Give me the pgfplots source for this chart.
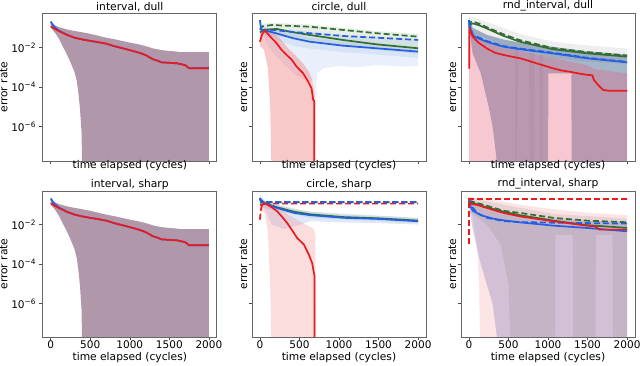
\documentclass[border=0pt]{standalone}
\usepackage{pgfplots}
\pgfplotsset{compat=1.18}
\usepackage{fontspec}
\setmainfont{DejaVu Sans}
\definecolor{cRed}{RGB}{235,25,30}
\definecolor{cBlue}{RGB}{35,95,230}
\definecolor{cGreen}{RGB}{50,110,50}
\definecolor{fRed}{RGB}{240,120,120}
\definecolor{fRedM}{RGB}{229,98,126}
\definecolor{fBlue}{RGB}{80,130,220}
\definecolor{fBlueD}{RGB}{40,80,130}
\definecolor{fLav}{RGB}{110,100,180}
\definecolor{fGreen}{RGB}{60,110,60}
\definecolor{fGray}{RGB}{110,115,110}
\definecolor{fMauve}{RGB}{176,152,170}
\pgfplotsset{
 mypanel/.style={scale only axis, width=174pt, xmin=-100, xmax=2100,
   xtick={0,500,1000,1500,2000}, ytick={1e-6,1e-4,1e-2},
   yticklabels={10\textsuperscript{−6},10\textsuperscript{−4},10\textsuperscript{−2}},
   minor y tick num=0, yminorticks=false, tick align=outside, tick pos=left,
   major tick length=3.3pt, tick style={black!70, line width=0.6pt},
   axis line style={black!60, line width=0.7pt},
   /pgf/number format/assume math mode=true,
   /pgf/number format/set thousands separator={},
   tick label style={font=\fontsize{10.5}{12}\selectfont},
   xticklabel style={yshift=3pt},
   label style={font=\fontsize{10.7}{12}\selectfont},
   title style={font=\fontsize{10.7}{12}\selectfont, yshift=-8pt},
   ylabel style={yshift=-9pt},
   xlabel={time elapsed (cycles)}, ylabel={error rate},
   anchor=south west, clip=true},
 mytop/.style={height=148pt, ymin=1.8e-8, ymax=0.57, xticklabels={}, xlabel style={yshift=11pt}},
 mybot/.style={height=146pt, ymin=2.1e-8, ymax=0.5, xlabel style={yshift=3pt}},
 mynolab/.style={yticklabels={}},
 myfirst/.style={ylabel style={yshift=6pt}},
 ln/.style={line width=1.7pt, line join=round},
 dsh/.style={line width=1.7pt, dash pattern=on 6pt off 3pt},
 band/.style={draw=none, fill=#1},
}
\begin{document}
\begin{tikzpicture}
\useasboundingbox (0,0) rectangle (640pt,366pt);
% ---------- panel 1
\begin{axis}[ymode=log, mypanel, mytop, myfirst, at={(42.8pt,205pt)}, title={interval, dull}]
\addplot[band=fMauve] coordinates {(0,0.17)(100,0.11)(200,0.085)(300,0.07)(400,0.06)(500,0.05)(600,0.04)(700,0.032)(800,0.027)(900,0.022)(1000,0.018)(1100,0.015)(1200,0.012)(1300,0.009)(1400,0.0075)(1500,0.0068)(1600,0.0063)(1620,0.006)(2000,0.006)(2000,1e-9)(400,1e-9)(390,5e-7)(370,8e-6)(350,5e-5)(330,2e-4)(300,6e-4)(250,1.8e-3)(200,5e-3)(150,0.012)(100,0.03)(50,0.06)(0,0.1)} -- cycle;
\addplot[ln,cBlue] coordinates {(0,0.21)(20,0.16)(50,0.11)(100,0.075)(200,0.046)(300,0.032)(400,0.026)(500,0.022)(600,0.019)(700,0.016)(800,0.012)(900,0.0095)(1000,0.0075)(1100,0.0058)(1150,0.005)(1200,0.0042)(1250,0.0032)(1300,0.0025)(1350,0.0022)(1400,0.0018)(1500,0.0017)(1600,0.0016)(1700,0.0013)(1750,0.0009)(2000,0.0009)};
\addplot[ln,cRed] coordinates {(0,0.12)(50,0.09)(100,0.07)(200,0.045)(300,0.032)(400,0.026)(500,0.022)(600,0.019)(700,0.016)(800,0.012)(900,0.0095)(1000,0.0075)(1100,0.0058)(1150,0.005)(1200,0.0042)(1250,0.0032)(1300,0.0025)(1350,0.0022)(1400,0.0018)(1500,0.0017)(1600,0.0016)(1700,0.0013)(1750,0.0009)(2000,0.0009)};
\end{axis}
% ---------- panel 2
\begin{axis}[ymode=log, mypanel, mytop, mynolab, at={(252pt,205pt)}, title={circle, dull}]
\addplot[band=fBlue, fill opacity=0.12] coordinates {(0,0.3)(50,0.1)(210,0.09)(630,0.065)(1050,0.045)(1470,0.036)(2000,0.028)(2000,0.0012)(1800,0.0011)(1500,0.0013)(1200,0.001)(1000,0.0012)(800,0.0009)(720,0.0005)(705,1e-7)(690,1e-7)(680,2e-4)(600,2e-4)(500,3e-4)(400,6e-4)(300,0.0015)(200,0.004)(100,0.012)(50,0.04)(0,0.2)} -- cycle;
\addplot[band=fGreen, fill opacity=0.12] coordinates {(0,0.12)(30,0.16)(150,0.18)(630,0.15)(1050,0.1)(1470,0.07)(2000,0.05)(2000,0.005)(1470,0.008)(1050,0.012)(630,0.02)(210,0.04)(50,0.05)(0,0.05)} -- cycle;
\addplot[band=fBlue, fill opacity=0.12] coordinates {(0,0.3)(20,0.12)(100,0.1)(210,0.08)(420,0.05)(630,0.032)(1050,0.02)(1470,0.015)(2000,0.01)(2000,0.003)(1470,0.0045)(1050,0.006)(630,0.009)(420,0.012)(210,0.025)(100,0.035)(20,0.05)(0,0.15)} -- cycle;
\addplot[band=fRed, fill opacity=0.4] coordinates {(0,0.05)(60,0.1)(150,0.07)(250,0.03)(350,0.01)(450,0.004)(550,0.0015)(620,0.0006)(660,0.00025)(690,6e-5)(700,1e-9)(150,1e-9)(130,1e-5)(100,0.001)(50,0.008)(0,0.012)} -- cycle;
\addplot[dsh,cGreen] coordinates {(0,0.08)(30,0.12)(150,0.14)(630,0.115)(1050,0.079)(1470,0.054)(2000,0.036)};
\addplot[ln,cGreen] coordinates {(0,0.06)(50,0.08)(210,0.089)(420,0.06)(630,0.044)(1050,0.0245)(1470,0.0148)(2000,0.0093)};
\addplot[dsh,cBlue] coordinates {(20,0.075)(210,0.075)(420,0.062)(630,0.054)(1050,0.039)(1470,0.032)(2000,0.0245)};
\addplot[ln,cBlue] coordinates {(0,0.25)(10,0.12)(20,0.08)(50,0.075)(100,0.068)(210,0.053)(420,0.03)(630,0.02)(1050,0.0126)(1470,0.0093)(2000,0.0063)};
\addplot[ln,cRed] coordinates {(0,0.02)(30,0.05)(63,0.072)(100,0.05)(150,0.03)(210,0.017)(270,0.008)(337,0.0043)(400,0.0025)(463,0.0011)(547,0.0005)(610,0.00019)(653,8.7e-5)(674,2.2e-5)(686,2e-5)(686,1e-9)};
\end{axis}
% ---------- panel 3
\begin{axis}[ymode=log, mypanel, mytop, mynolab, at={(461pt,205pt)}, title={rnd\_interval, dull}]
\addplot[band=fGray, fill opacity=0.12] coordinates {(0,0.35)(48,0.35)(223,0.2)(434,0.1)(644,0.05)(1065,0.02)(1487,0.013)(2000,0.009)(2000,0.0015)(1487,0.002)(1065,0.003)(940,0.004)(930,1e-9)(900,1e-9)(890,0.005)(830,0.006)(820,1e-9)(770,1e-9)(760,0.007)(620,0.009)(610,1e-9)(590,1e-9)(580,0.01)(434,0.012)(223,0.03)(48,0.05)(0,0.05)} -- cycle;
\addplot[band=fBlueD, fill opacity=0.42] coordinates {(0,0.3)(48,0.1)(223,0.045)(434,0.026)(644,0.018)(1065,0.011)(1487,0.0065)(2000,0.0045)(2000,1e-9)(1300,1e-9)(1295,5e-4)(1005,5e-4)(1000,1e-9)(390,1e-9)(300,1e-6)(250,1e-5)(150,5e-4)(48,0.005)(0,0.1)} -- cycle;
\addplot[band=fRedM, fill opacity=0.35] coordinates {(0,0.001)(5,0.1)(50,0.05)(223,0.02)(434,0.01)(644,0.007)(1065,0.003)(1487,0.0013)(1600,0.0008)(2000,0.0005)(2000,1e-9)(0,1e-9)} -- cycle;
\addplot[dsh,cGreen] coordinates {(0,0.12)(20,0.2)(48,0.21)(120,0.17)(223,0.11)(434,0.048)(644,0.024)(1065,0.0095)(1487,0.006)(2000,0.004)};
\addplot[ln,cGreen] coordinates {(0,0.1)(20,0.15)(48,0.17)(120,0.14)(223,0.095)(434,0.04)(644,0.02)(1065,0.0083)(1487,0.0052)(2000,0.0035)};
\addplot[dsh,cBlue] coordinates {(0,0.2)(48,0.045)(223,0.022)(434,0.012)(644,0.009)(1065,0.0055)(1487,0.0031)(2000,0.0019)};
\addplot[ln,cBlue] coordinates {(0,0.25)(5,0.15)(48,0.039)(223,0.02)(434,0.0112)(644,0.0083)(1065,0.0051)(1487,0.0029)(2000,0.0018)};
\addplot[ln,cRed] coordinates {(0,0.00089)(3,0.00089)(5,0.095)(48,0.036)(120,0.018)(223,0.0093)(330,0.0055)(434,0.0043)(540,0.0035)(644,0.0029)(750,0.0022)(855,0.0016)(960,0.0012)(1065,0.00089)(1170,0.0007)(1276,0.0006)(1380,0.0005)(1487,0.00042)(1560,0.0004)(1580,0.00023)(1640,0.00012)(1697,7.2e-5)(1760,6.6e-5)(2000,6.6e-5)};
\end{axis}
% ---------- panel 4
\begin{axis}[ymode=log, mypanel, mybot, myfirst, at={(42.8pt,29pt)}, title={interval, sharp}]
\addplot[band=fMauve] coordinates {(0,0.17)(100,0.11)(200,0.085)(300,0.07)(400,0.06)(500,0.05)(600,0.04)(700,0.032)(800,0.027)(900,0.022)(1000,0.018)(1100,0.015)(1200,0.012)(1300,0.009)(1400,0.0075)(1500,0.0068)(1600,0.0063)(1620,0.006)(2000,0.006)(2000,1e-9)(400,1e-9)(390,5e-7)(370,8e-6)(350,5e-5)(330,2e-4)(300,6e-4)(250,1.8e-3)(200,5e-3)(150,0.012)(100,0.03)(50,0.06)(0,0.1)} -- cycle;
\addplot[ln,cBlue] coordinates {(0,0.21)(20,0.16)(50,0.11)(100,0.075)(200,0.046)(300,0.032)(400,0.026)(500,0.022)(600,0.019)(700,0.016)(800,0.012)(900,0.0095)(1000,0.0075)(1100,0.0058)(1150,0.005)(1200,0.0042)(1250,0.0032)(1300,0.0025)(1350,0.0022)(1400,0.0018)(1500,0.0017)(1600,0.0016)(1700,0.0013)(1750,0.0009)(2000,0.0009)};
\addplot[ln,cRed] coordinates {(0,0.12)(50,0.09)(100,0.07)(200,0.045)(300,0.032)(400,0.026)(500,0.022)(600,0.019)(700,0.016)(800,0.012)(900,0.0095)(1000,0.0075)(1100,0.0058)(1150,0.005)(1200,0.0042)(1250,0.0032)(1300,0.0025)(1350,0.0022)(1400,0.0018)(1500,0.0017)(1600,0.0016)(1700,0.0013)(1750,0.0009)(2000,0.0009)};
\end{axis}
% ---------- panel 5
\begin{axis}[ymode=log, mypanel, mybot, mynolab, at={(252pt,29pt)}, title={circle, sharp}]
\addplot[band=fBlue, fill opacity=0.18] coordinates {(0,0.3)(71,0.16)(218,0.1)(432,0.06)(640,0.045)(1062,0.032)(1483,0.028)(2000,0.022)(2000,0.01)(1483,0.012)(1062,0.013)(640,0.015)(432,0.008)(300,0.006)(150,0.01)(71,0.05)(0,0.12)} -- cycle;
\addplot[band=fGreen, fill opacity=0.12] coordinates {(0,0.15)(218,0.1)(640,0.045)(2000,0.022)(2000,0.012)(640,0.022)(218,0.05)(0,0.08)} -- cycle;
\addplot[band=fRed, fill opacity=0.25] coordinates {(0,0.13)(100,0.13)(200,0.08)(300,0.045)(400,0.025)(500,0.015)(600,0.009)(680,0.006)(700,0.003)(705,1e-9)(150,1e-9)(130,1e-5)(100,0.005)(60,0.04)(0,0.05)} -- cycle;
\addplot[dsh,cRed] coordinates {(0,0.0178)(10,0.05)(30,0.115)(2000,0.115)};
\addplot[dsh,cGreen] coordinates {(0,0.2)(15,0.135)(2000,0.135)};
\addplot[ln,cGreen] coordinates {(0,0.2)(71,0.115)(218,0.075)(432,0.045)(640,0.033)(1062,0.024)(1483,0.021)(2000,0.016)};
\addplot[ln,cBlue] coordinates {(0,0.22)(20,0.14)(50,0.12)(71,0.115)(218,0.069)(432,0.039)(640,0.03)(1062,0.022)(1483,0.0195)(2000,0.0148)};
\addplot[dsh,cBlue] coordinates {(0,0.22)(15,0.14)(2000,0.14)};
\addplot[ln,cRed] coordinates {(0,0.1)(71,0.115)(150,0.075)(218,0.047)(280,0.025)(345,0.012)(410,0.005)(471,0.0021)(555,0.001)(618,0.00031)(660,0.000117)(690,2.5e-5)(692,1e-9)};
\end{axis}
% ---------- panel 6
\begin{axis}[ymode=log, mypanel, mybot, mynolab, at={(461pt,29pt)}, title={rnd\_interval, sharp}]
\addplot[band=fRed, fill opacity=0.2] coordinates {(0,0.25)(227,0.2)(647,0.1)(1067,0.06)(1487,0.04)(2000,0.03)(2000,1e-9)(143,1e-9)(130,1e-5)(100,0.001)(50,0.02)(0,0.15)} -- cycle;
\addplot[band=fLav, fill opacity=0.28] coordinates {(0,0.22)(227,0.06)(647,0.03)(1067,0.02)(1487,0.016)(2000,0.013)(2000,1e-9)(395,1e-9)(300,1e-6)(150,1e-4)(50,0.005)(0,0.1)} -- cycle;
\addplot[band=fGray, fill opacity=0.15] coordinates {(0,0.25)(227,0.15)(647,0.07)(1067,0.035)(2000,0.02)(2000,1e-9)(1820,1e-9)(1815,0.003)(1605,0.003)(1600,1e-9)(1320,1e-9)(1315,0.003)(1095,0.003)(1090,1e-9)(530,1e-9)(500,1e-5)(400,0.001)(227,0.01)(0,0.05)} -- cycle;
\addplot[ln,cGreen] coordinates {(0,0.14)(227,0.075)(437,0.045)(647,0.03)(1067,0.016)(1487,0.0095)(2000,0.0068)};
\addplot[dsh,cGreen] coordinates {(0,0.16)(227,0.09)(437,0.05)(647,0.039)(1067,0.022)(1487,0.016)(2000,0.0132)};
\addplot[dsh,cBlue] coordinates {(0,0.2)(20,0.1)(100,0.04)(227,0.022)(437,0.015)(647,0.0135)(1067,0.0125)(1487,0.012)(2000,0.0112)};
\addplot[ln,cBlue] coordinates {(0,0.2)(10,0.1)(50,0.05)(150,0.03)(309,0.02)(437,0.0166)(647,0.013)(1067,0.0089)(1487,0.0068)(2000,0.0046)};
\addplot[ln,cRed] coordinates {(0,0.15)(20,0.11)(100,0.1)(227,0.069)(437,0.039)(647,0.026)(1067,0.0148)(1487,0.0089)(1600,0.008)(1655,0.0056)(2000,0.0056)};
\addplot[dsh,cRed] coordinates {(0,0.001)(0,0.2)(2000,0.2)};
\end{axis}
\end{tikzpicture}
\end{document}
